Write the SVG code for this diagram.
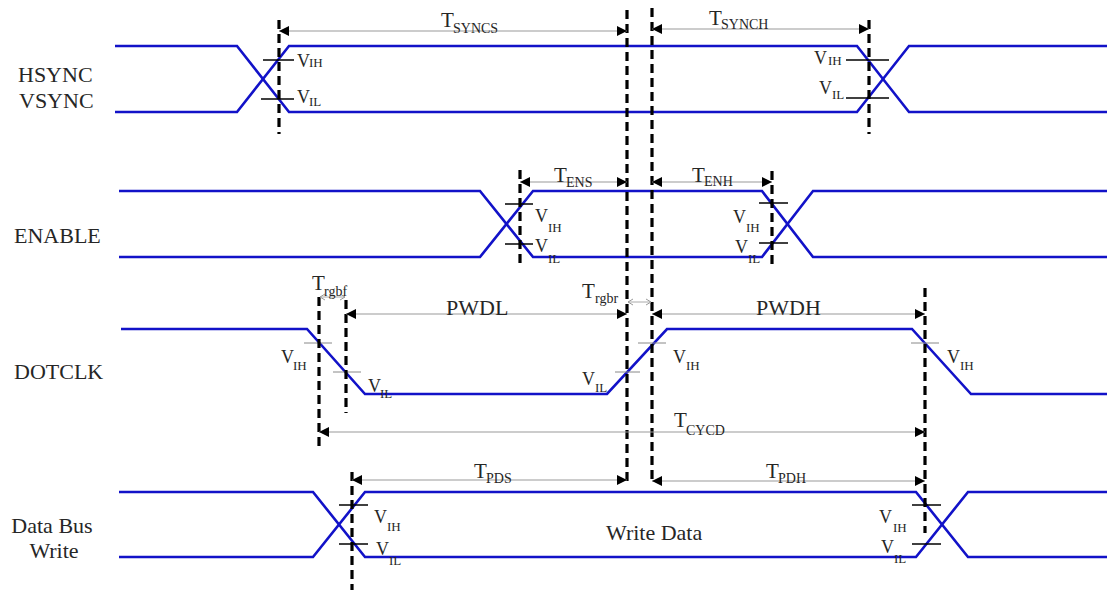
<svg xmlns="http://www.w3.org/2000/svg" width="1107" height="590" viewBox="0 0 1107 590">
<defs>
<marker id="ah" markerUnits="userSpaceOnUse" markerWidth="12" markerHeight="12" refX="10" refY="6" orient="auto-start-reverse"><path d="M0,1 L10,6 L0,11 z" fill="#000"/></marker>
<marker id="sa" markerUnits="userSpaceOnUse" markerWidth="8" markerHeight="8" refX="6" refY="4" orient="auto-start-reverse"><path d="M1,1 L6,4 L1,7" fill="none" stroke="#999" stroke-width="1"/></marker>
</defs>
<style>
.w{fill:none;stroke:#1212c8;stroke-width:2.6}
.g{stroke:#000;stroke-width:3.2;stroke-dasharray:9 5;fill:none}
.d{stroke:#999;stroke-width:1.2;fill:none;marker-start:url(#ah);marker-end:url(#ah)}
.sd{stroke:#aaa;stroke-width:1;fill:none;marker-start:url(#sa);marker-end:url(#sa)}
.k{stroke:#000;stroke-width:1.5}
.kt{stroke:#888;stroke-width:1}
text{font-family:"Liberation Serif","Times New Roman",serif;fill:#262626}
.n{font-size:22px}
.v{font-size:18px}
.vs{font-size:13px}
.t{font-size:21px}
.ts{font-size:14px}
</style>
<rect width="1107" height="590" fill="#fff"/>

<g id="hsync">
<polyline class="w" points="115,46 237,46 289,112 857,112 909,46 1107,46"/>
<polyline class="w" points="115,112 237,112 289,46 857,46 909,112 1107,112"/>
<text class="n" x="18" y="82">HSYNC</text>
<text class="n" x="19" y="108">VSYNC</text>
<line class="k" x1="263" y1="60" x2="294" y2="60"/>
<line class="k" x1="261" y1="99" x2="294" y2="99"/>
<line class="k" x1="846" y1="60" x2="889" y2="60"/>
<line class="k" x1="846" y1="98" x2="889" y2="98"/>
<text class="v" x="297" y="67">V<tspan class="vs" x="309" y="67">IH</tspan></text>
<text class="v" x="297" y="103">V<tspan class="vs" x="309" y="106">IL</tspan></text>
<text class="v" x="814" y="64">V<tspan class="vs" x="828" y="65">IH</tspan></text>
<text class="v" x="819" y="94">V<tspan class="vs" x="832" y="99">IL</tspan></text>
</g>

<g id="enable">
<polyline class="w" points="119,191 480,191 533,257 762,257 813,191 1107,191"/>
<polyline class="w" points="119,257 480,257 533,191 762,191 813,257 1107,257"/>
<text class="n" x="14" y="243">ENABLE</text>
<line class="k" x1="505" y1="204" x2="533" y2="204"/>
<line class="k" x1="505" y1="244" x2="533" y2="244"/>
<line class="k" x1="759" y1="203" x2="788" y2="203"/>
<line class="k" x1="759" y1="243" x2="788" y2="243"/>
<text class="v" x="535" y="222">V<tspan class="vs" x="548" y="232">IH</tspan></text>
<text class="v" x="535" y="252">V<tspan class="vs" x="548" y="263">IL</tspan></text>
<text class="v" x="733" y="223">V<tspan class="vs" x="746" y="232">IH</tspan></text>
<text class="v" x="735" y="253">V<tspan class="vs" x="748" y="263">IL</tspan></text>
</g>

<g id="dotclk">
<polyline class="w" points="121,329 307,329 365,394 607,394 667,329 912,329 971,394 1107,394"/>
<text class="n" x="14" y="379">DOTCLK</text>
<line class="kt" x1="304" y1="343" x2="332" y2="343"/>
<line class="kt" x1="333" y1="372" x2="361" y2="372"/>
<line class="kt" x1="615" y1="372" x2="640" y2="372"/>
<line class="kt" x1="638" y1="343" x2="666" y2="343"/>
<line class="kt" x1="911" y1="343" x2="939" y2="343"/>
<text class="v" x="281" y="363">V<tspan class="vs" x="293" y="370">IH</tspan></text>
<text class="v" x="368" y="392">V<tspan class="vs" x="380" y="398">IL</tspan></text>
<text class="v" x="582" y="385">V<tspan class="vs" x="595" y="392">IL</tspan></text>
<text class="v" x="673" y="363">V<tspan class="vs" x="686" y="370">IH</tspan></text>
<text class="v" x="947" y="363">V<tspan class="vs" x="960" y="370">IH</tspan></text>
</g>

<g id="databus">
<polyline class="w" points="119,492 313,492 365,557 916,557 968,492 1107,492"/>
<polyline class="w" points="119,557 313,557 365,492 916,492 968,557 1107,557"/>
<text class="n" x="52" y="533" text-anchor="middle">Data Bus</text>
<text class="n" x="54" y="558" text-anchor="middle">Write</text>
<text class="n" x="606" y="540">Write Data</text>
<line class="k" x1="339" y1="505" x2="368" y2="505"/>
<line class="k" x1="339" y1="544" x2="368" y2="544"/>
<line class="k" x1="912" y1="505" x2="941" y2="505"/>
<line class="k" x1="912" y1="544" x2="941" y2="544"/>
<text class="v" x="374" y="523">V<tspan class="vs" x="387" y="531">IH</tspan></text>
<text class="v" x="376" y="555">V<tspan class="vs" x="389" y="565">IL</tspan></text>
<text class="v" x="879" y="523">V<tspan class="vs" x="893" y="532">IH</tspan></text>
<text class="v" x="881" y="553">V<tspan class="vs" x="894" y="563">IL</tspan></text>
</g>

<g id="guides">
<line class="g" x1="279" y1="20" x2="279" y2="134"/>
<line class="g" x1="627" y1="10" x2="627" y2="484"/>
<line class="g" x1="652" y1="8" x2="652" y2="484"/>
<line class="g" x1="869" y1="20" x2="869" y2="134"/>
<line class="g" x1="520" y1="170" x2="520" y2="268"/>
<line class="g" x1="772" y1="171" x2="772" y2="268"/>
<line class="g" x1="319" y1="297" x2="319" y2="449"/>
<line class="g" x1="346" y1="300" x2="346" y2="413"/>
<line class="g" x1="925" y1="288" x2="925" y2="533"/>
<line class="g" x1="352" y1="472" x2="352" y2="590"/>
</g>

<g id="connectors">
<line class="d" x1="279" y1="31" x2="627" y2="31"/>
<line class="d" x1="652" y1="29" x2="869" y2="29"/>
<line class="d" x1="520" y1="182" x2="627" y2="182"/>
<line class="d" x1="652" y1="182" x2="772" y2="182"/>
<line class="d" x1="346" y1="314" x2="627" y2="314"/>
<line class="d" x1="652" y1="314" x2="925" y2="314"/>
<line class="d" x1="319" y1="432" x2="925" y2="432"/>
<line class="d" x1="352" y1="480" x2="627" y2="480"/>
<line class="d" x1="652" y1="481" x2="925" y2="481"/>
<line class="sd" x1="320" y1="297" x2="345" y2="297"/>
<line class="sd" x1="628" y1="302" x2="651" y2="302"/>
</g>

<g id="labels">
<text class="t" x="441" y="27">T<tspan class="ts" x="453" y="33">SYNCS</tspan></text>
<text class="t" x="709" y="25">T<tspan class="ts" x="721" y="29">SYNCH</tspan></text>
<text class="t" x="554" y="182">T<tspan class="ts" x="566" y="187">ENS</tspan></text>
<text class="t" x="692" y="182">T<tspan class="ts" x="704" y="186">ENH</tspan></text>
<text class="t" x="312" y="290">T<tspan class="ts" x="324" y="296">rgbf</tspan></text>
<text class="t" x="582" y="298">T<tspan class="ts" x="595" y="303">rgbr</tspan></text>
<text class="n" x="446" y="315">PWDL</text>
<text class="n" x="756" y="315">PWDH</text>
<text class="t" x="674" y="427">T<tspan class="ts" x="686" y="435">CYCD</tspan></text>
<text class="t" x="474" y="478">T<tspan class="ts" x="486" y="483">PDS</tspan></text>
<text class="t" x="766" y="478">T<tspan class="ts" x="778" y="483">PDH</tspan></text>
</g>
</svg>
